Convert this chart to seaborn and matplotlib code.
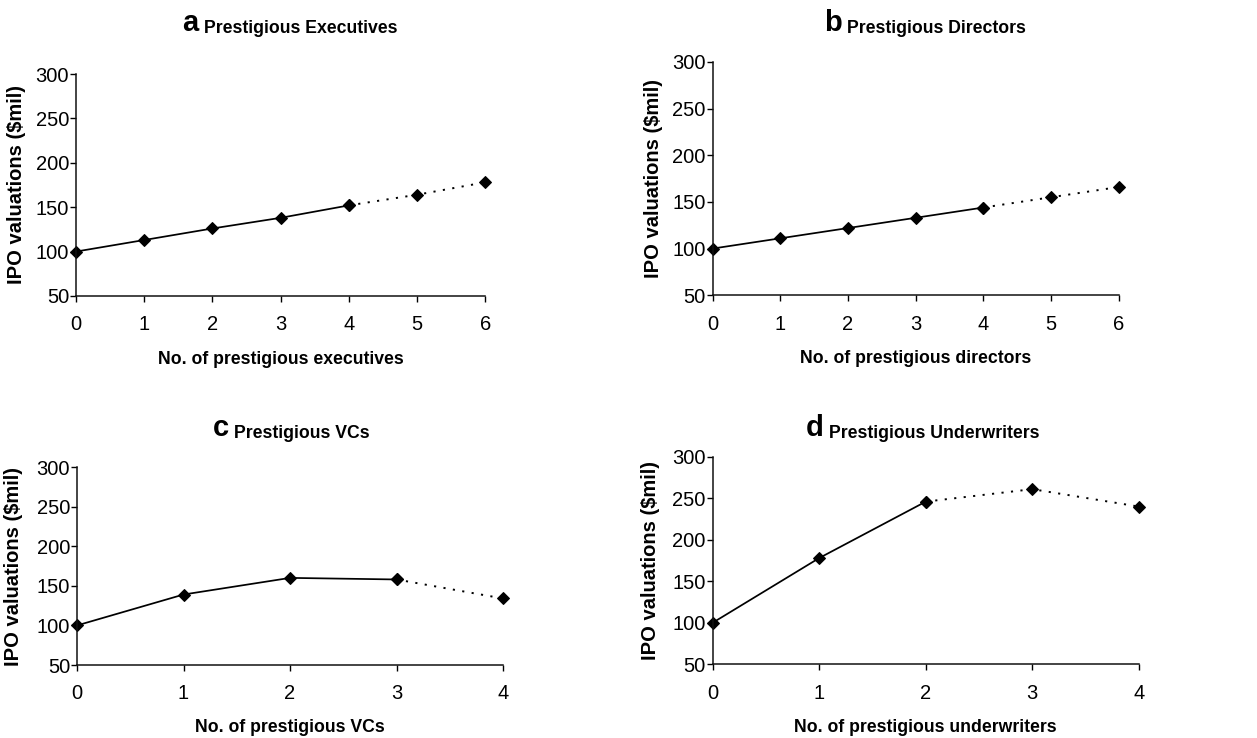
import numpy as np
import pandas as pd
import matplotlib
matplotlib.use("Agg")
import matplotlib.pyplot as plt
import seaborn as sns

# values (IPO valuation, $mil)
exec_counts = [0, 1, 2, 3, 4, 5, 6]
exec_vals = [100, 113, 126, 138, 152, 164, 178]
dir_counts = [0, 1, 2, 3, 4, 5, 6]
dir_vals = [100, 111, 122, 133, 144, 155, 166]
vc_counts = [0, 1, 2, 3, 4]
vc_vals = [100, 139, 160, 158, 134]
uw_counts = [0, 1, 2, 3, 4]
uw_vals = [100, 178, 246, 261, 240]
# last index drawn solid, rest is dotted (out of sample)
solid_until = {"a": 4, "b": 4, "c": 3, "d": 2}

y_ticks = [50, 100, 150, 200, 250, 300]

sns.set_style("ticks")
plt.rcParams['font.family'] = ['Liberation Sans', 'DejaVu Sans']
plt.rcParams['text.color'] = 'black'
plt.rcParams['axes.labelcolor'] = 'black'
plt.rcParams['xtick.color'] = 'black'
plt.rcParams['ytick.color'] = 'black'


def draw_panel(ax, x, y, n_solid, letter, title, xlabel, title_x, title_pad, xpad, ypad):
    df = pd.DataFrame({'x': x, 'y': y})
    solid = df.iloc[:n_solid + 1]
    dotted = df.iloc[n_solid:]
    sns.lineplot(data=solid, x='x', y='y', ax=ax, color='k', lw=1.25,
                 marker='D', markersize=6.5, markeredgecolor='k', clip_on=False)
    sns.lineplot(data=dotted, x='x', y='y', ax=ax, color='k', lw=1.4,
                 linestyle=(0, (1.1, 3.8)), marker='D', markersize=6.5,
                 markeredgecolor='k', clip_on=False)

    ax.set_xlim(0, max(x))
    ax.set_ylim(50, 300)
    ax.set_xticks(x)
    ax.set_yticks(y_ticks)
    sns.despine(ax=ax)
    for s in ['left', 'bottom']:
        ax.spines[s].set_linewidth(1.1)
        ax.spines[s].set_color('#111111')
    ax.tick_params(axis='x', direction='out', length=4, width=1, pad=10, labelsize=14.5)
    ax.tick_params(axis='y', direction='out', length=4, width=1, pad=1, labelsize=14.5)

    ax.set_xlabel(xlabel, fontsize=12.7, fontweight='bold', labelpad=xpad)
    ax.set_ylabel('IPO valuations ($mil)', fontsize=14.5, fontweight='bold', labelpad=ypad)

    t = ax.set_title(title, fontsize=12.7, fontweight='bold', pad=title_pad, x=title_x)
    ax.annotate(letter, xy=(0, 0), xycoords=t, xytext=(-4, 0),
                textcoords='offset points', ha='right', va='bottom',
                fontsize=21, fontweight='bold')


fig = plt.figure(figsize=(12.57, 7.38), dpi=100)
ax_a = fig.add_axes([0.0605, 0.599, 0.3255, 0.3007])
ax_b = fig.add_axes([0.567, 0.600, 0.323, 0.316])
ax_c = fig.add_axes([0.0613, 0.0989, 0.3389, 0.2683])
ax_d = fig.add_axes([0.567, 0.100, 0.339, 0.281])

draw_panel(ax_a, exec_counts, exec_vals, solid_until["a"], "a", "Prestigious Executives",
           "No. of prestigious executives", 0.548, 29.5, 12, 7)
draw_panel(ax_b, dir_counts, dir_vals, solid_until["b"], "b", "Prestigious Directors",
           "No. of prestigious directors", 0.552, 21, 12, 7)
draw_panel(ax_c, vc_counts, vc_vals, solid_until["c"], "c", "Prestigious VCs",
           "No. of prestigious VCs", 0.528, 21, 11, 10)
draw_panel(ax_d, uw_counts, uw_vals, solid_until["d"], "d", "Prestigious Underwriters",
           "No. of prestigious underwriters", 0.521, 13.7, 12, 9)

fig.savefig("out.png", dpi=100)
